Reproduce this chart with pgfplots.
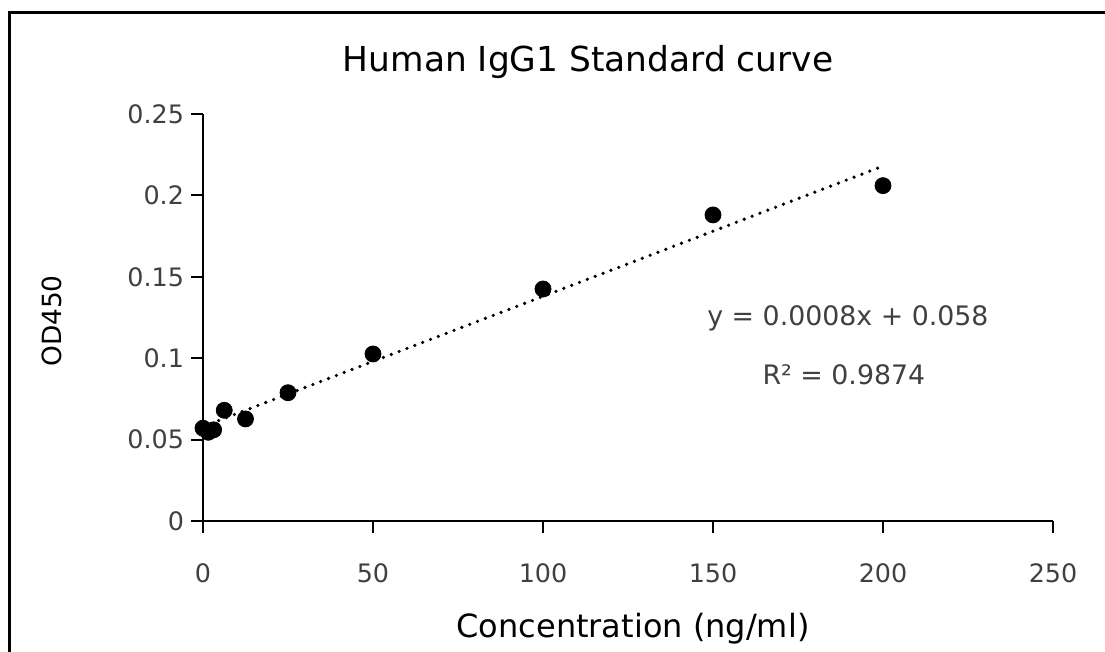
\documentclass[border=0pt]{standalone}
\usepackage{pgfplots}
\pgfplotsset{compat=1.18}
\usepackage{fontspec}
\setmainfont{DejaVu Sans}
\definecolor{txt}{HTML}{404040}
\begin{document}
\begin{tikzpicture}[x=1pt,y=1pt]
\useasboundingbox (0,0) rectangle (552.5,326);
\draw[line width=1.5pt] (4.5,0) -- (4.5,319.5) -- (552.5,319.5);
\begin{axis}[
  at={(101.5pt,65.5pt)}, anchor=origin,
  scale only axis, width=425pt, height=203.5pt,
  xmin=0, xmax=250, ymin=0, ymax=0.25,
  axis x line=bottom, axis y line=left,
  axis line style={line width=1pt,-},
  xtick={0,50,100,150,200,250},
  ytick={0,0.05,0.1,0.15,0.2,0.25},
  yticklabels={0,0.05,0.1,0.15,0.2,0.25},
  tick align=outside, major tick length=6pt,
  tick style={line width=1pt,black},
  /pgf/number format/assume math mode=true,
  ticklabel style={font=\fontsize{12.7}{14}\selectfont, text=txt},
  xticklabel style={yshift=-12pt},
  yticklabel style={xshift=0pt},
  clip=false,
]
\addplot[only marks, mark=*, mark size=4pt, black] coordinates {
 (0,0.057) (1.5625,0.0545) (3.125,0.056) (6.25,0.068) (12.5,0.0627)
 (25,0.0788) (50,0.1026) (100,0.1425) (150,0.188) (200,0.206)
};
\addplot[black, line width=1.8pt, line cap=round, dash pattern=on 0pt off 4.2pt] coordinates {(0,0.058) (200,0.218)};
\node[text=txt, font=\fontsize{13.4}{15}\selectfont] at (axis cs:189.7,0.1247) {y = 0.0008x + 0.058};
\node[text=txt, font=\fontsize{13.4}{15}\selectfont] at (axis cs:188.5,0.0897) {R² = 0.9874};
\end{axis}
\node[text=black, font=\fontsize{17.2}{19}\selectfont] at (294,295) {Human IgG1 Standard curve};
\node[text=black, font=\fontsize{16}{18}\selectfont] at (316.5,11.5) {Concentration (ng/ml)};
\node[text=black, font=\fontsize{13.2}{15}\selectfont, rotate=90] at (26,165.5) {OD450};
\end{tikzpicture}
\end{document}
